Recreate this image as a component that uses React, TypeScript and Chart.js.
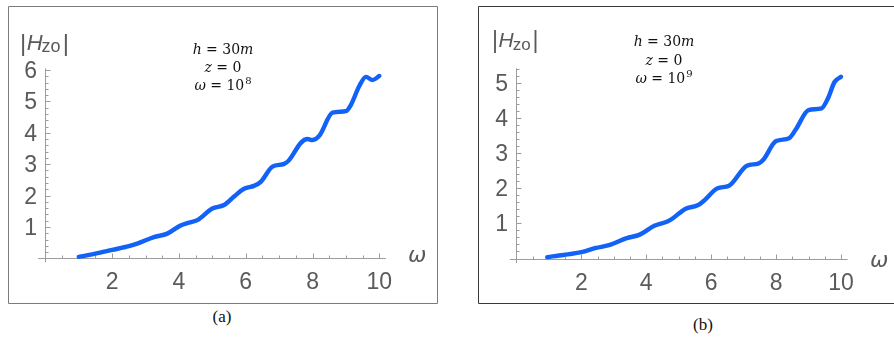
import React, { useEffect, useRef } from "react";
import { Chart, registerables } from "chart.js";

Chart.register(...registerables);

// ---------- data ----------
const omegaA = [1, 1.5, 2, 2.5, 2.75, 3.25, 3.65, 4.05, 4.3, 4.55, 5.0, 5.35, 5.65, 5.95, 6.25, 6.45, 6.8, 7.15, 7.3, 7.65, 7.85, 8.0, 8.2, 8.6, 9.0, 9.15, 9.4, 9.6, 9.8, 10];
const hzoA = [0.05, 0.15, 0.27, 0.39, 0.47, 0.68, 0.79, 1.05, 1.14, 1.22, 1.59, 1.7, 1.97, 2.22, 2.31, 2.44, 2.92, 3.01, 3.13, 3.68, 3.8, 3.77, 3.9, 4.64, 4.69, 4.89, 5.49, 5.78, 5.68, 5.81];

const omegaB = [0.95, 1.45, 2.0, 2.45, 2.85, 3.4, 3.8, 4.25, 4.65, 4.8, 5.2, 5.6, 5.75, 6.2, 6.55, 7.1, 7.45, 7.6, 8.0, 8.4, 8.6, 9.0, 9.4, 9.6, 9.8, 10];
const hzoB = [0.04, 0.1, 0.18, 0.3, 0.38, 0.58, 0.68, 0.93, 1.05, 1.13, 1.41, 1.52, 1.62, 2.0, 2.07, 2.64, 2.7, 2.8, 3.34, 3.42, 3.66, 4.22, 4.27, 4.56, 5.02, 5.17];

const xTickLabels = [2, 4, 6, 8, 10];
const yTickLabelsA = [1, 2, 3, 4, 5, 6];
const yTickLabelsB = [1, 2, 3, 4, 5];

const captions = ["(a)", "(b)"];
const exponentA = "8";
const exponentB = "9";

type Seg = { t: string; it?: boolean; sup?: boolean };

const annotationLines = (exp: string): Seg[][] => [
  [{ t: "h", it: true }, { t: " = 30" }, { t: "m", it: true }],
  [{ t: "z", it: true }, { t: " = 0" }],
  [{ t: "ω", it: true }, { t: " = 10" }, { t: exp, sup: true }],
];

// ---------- panel layout / style ----------
type Panel = {
  left: number; top: number; width: number; height: number;
  pad: { left: number; right: number; top: number; bottom: number };
  xMin: number; xMax: number; yMin: number; yMax: number;
  xs: number[]; ys: number[]; yTicks: number[];
  exp: string;
  borderColor: string; rightBorder: boolean;
  hLabel: { x: number; base: number; size: number; subSize: number; subBase: number };
  ann: { cx: number; base: number; gap: number };
  omega: { x: number; base: number };
  caption: { cx: number; top: number; text: string };
};

const panels: Panel[] = [
  {
    left: 8, top: 6, width: 430, height: 298,
    pad: { left: 30, right: 52, top: 62.4, bottom: 41.8 },
    xMin: -0.22, xMax: 10.2, yMin: -0.12, yMax: 6.05,
    xs: omegaA, ys: hzoA, yTicks: yTickLabelsA, exp: exponentA,
    borderColor: "#7c7c7c", rightBorder: true,
    hLabel: { x: 12, base: 44, size: 22, subSize: 18, subBase: 46 },
    ann: { cx: 215, base: 48, gap: 18 },
    omega: { x: 400, base: 256 },
    caption: { cx: 222, top: 307, text: captions[0] },
  },
  {
    left: 478, top: 6, width: 416, height: 298,
    pad: { left: 31.9, right: 46.5, top: 62.3, bottom: 40.9 },
    xMin: -0.2, xMax: 10.2, yMin: -0.13, yMax: 5.41,
    xs: omegaB, ys: hzoB, yTicks: yTickLabelsB, exp: exponentB,
    borderColor: "#3a3a3a", rightBorder: false,
    hLabel: { x: 14, base: 41, size: 21, subSize: 17, subBase: 44 },
    ann: { cx: 186, base: 40, gap: 18.5 },
    omega: { x: 392, base: 261 },
    caption: { cx: 703, top: 315, text: captions[1] },
  },
];

const AXIS = "#9c9c9c";
const LABEL = "#5a5a5a";
const CURVE = "#1262f7";

function drawSegs(ctx: CanvasRenderingContext2D, segs: Seg[], cx: number, base: number, size: number) {
  const fontFor = (s: Seg) =>
    `${s.it ? "italic " : ""}${s.sup ? Math.round(size * 0.68) : size}px "DejaVu Serif"`;
  let total = 0;
  for (const s of segs) {
    ctx.font = fontFor(s);
    total += ctx.measureText(s.t).width + (s.sup ? 1 : 0);
  }
  let x = cx - total / 2;
  ctx.textAlign = "left";
  ctx.textBaseline = "alphabetic";
  for (const s of segs) {
    ctx.font = fontFor(s);
    if (s.sup) x += 1;
    ctx.fillText(s.t, x, s.sup ? base - size * 0.42 : base);
    x += ctx.measureText(s.t).width;
  }
}

function makePlugin(p: Panel) {
  return {
    id: "mathAxes",
    beforeDatasetsDraw(chart: any) {
      const { ctx } = chart;
      const xs = chart.scales.x;
      const ys = chart.scales.y;
      const x0 = Math.round(xs.getPixelForValue(0)) + 0.5;
      const y0 = Math.round(ys.getPixelForValue(0)) + 0.5;
      ctx.save();
      // border
      ctx.strokeStyle = p.borderColor;
      ctx.lineWidth = 1;
      ctx.beginPath();
      if (p.rightBorder) {
        ctx.rect(0.5, 0.5, chart.width - 1, chart.height - 1);
      } else {
        ctx.moveTo(chart.width + 2, 0.5);
        ctx.lineTo(0.5, 0.5);
        ctx.lineTo(0.5, chart.height - 0.5);
        ctx.lineTo(chart.width + 2, chart.height - 0.5);
      }
      ctx.stroke();

      ctx.strokeStyle = AXIS;
      ctx.beginPath();
      ctx.moveTo(xs.left, y0);
      ctx.lineTo(xs.right, y0);
      ctx.moveTo(x0, ys.top);
      ctx.lineTo(x0, ys.bottom);
      // x ticks every 0.5, major every 2
      for (let k = 1; k * 0.5 <= p.xMax; k++) {
        const v = k * 0.5;
        const px = Math.round(xs.getPixelForValue(v)) + 0.5;
        const len = k % 4 === 0 ? 5 : 3;
        ctx.moveTo(px, y0);
        ctx.lineTo(px, y0 - len);
      }
      // y ticks every 0.2, major every 1
      for (let k = 1; k * 0.2 <= p.yMax + 1e-9; k++) {
        const v = k * 0.2;
        const py = Math.round(ys.getPixelForValue(v)) + 0.5;
        const len = k % 5 === 0 ? 5 : 3;
        ctx.moveTo(x0, py);
        ctx.lineTo(x0 + len, py);
      }
      ctx.stroke();

      // tick labels
      ctx.fillStyle = LABEL;
      ctx.font = '23px "Liberation Sans"';
      ctx.textAlign = "center";
      ctx.textBaseline = "alphabetic";
      for (const v of xTickLabels) {
        ctx.fillText(String(v), xs.getPixelForValue(v), y0 + 30);
      }
      ctx.textAlign = "right";
      for (const v of p.yTicks) {
        ctx.fillText(String(v), x0 - 8.5, ys.getPixelForValue(v) + 8);
      }

      // |H_zo| label
      const h = p.hLabel;
      ctx.textAlign = "left";
      let cx = h.x;
      ctx.font = `${h.size + 2}px "Liberation Sans"`;
      ctx.fillText("|", cx, h.base + 1);
      cx += ctx.measureText("|").width + 0.5;
      ctx.font = `italic ${h.size}px "Liberation Sans"`;
      ctx.fillText("H", cx, h.base);
      cx += ctx.measureText("H").width - 1;
      ctx.font = `${h.subSize}px "Liberation Sans"`;
      ctx.fillText("zo", cx, h.subBase);
      cx += ctx.measureText("zo").width + 2;
      ctx.font = `${h.size + 2}px "Liberation Sans"`;
      ctx.fillText("|", cx, h.base + 1);

      // omega axis label
      ctx.font = 'italic 22px "DejaVu Sans"';
      ctx.fillText("ω", p.omega.x, p.omega.base);

      // annotation
      ctx.fillStyle = "#111111";
      annotationLines(p.exp).forEach((segs, i) => {
        drawSegs(ctx, segs, p.ann.cx, p.ann.base + i * p.ann.gap, 14);
      });
      ctx.restore();
    },
  };
}

function PanelChart({ p }: { p: Panel }) {
  const ref = useRef<HTMLCanvasElement | null>(null);
  useEffect(() => {
    if (!ref.current) return;
    const chart = new Chart(ref.current, {
      type: "line",
      data: {
        datasets: [
          {
            data: p.xs.map((x, i) => ({ x, y: p.ys[i] })),
            borderColor: CURVE,
            borderWidth: 4.4,
            pointRadius: 0,
            cubicInterpolationMode: "monotone",
            fill: false,
            borderCapStyle: "round",
            borderJoinStyle: "round",
          },
        ],
      },
      options: {
        animation: false,
        responsive: false,
        maintainAspectRatio: false,
        layout: { padding: p.pad },
        plugins: { legend: { display: false }, tooltip: { enabled: false } },
        scales: {
          x: { type: "linear", min: p.xMin, max: p.xMax, display: false },
          y: { type: "linear", min: p.yMin, max: p.yMax, display: false },
        },
      },
      plugins: [makePlugin(p)],
    } as any);
    return () => chart.destroy();
  }, [p]);
  return (
    <canvas
      ref={ref}
      width={p.width}
      height={p.height}
      style={{ position: "absolute", left: p.left, top: p.top, width: p.width, height: p.height }}
    />
  );
}

export default function App() {
  return (
    <div style={{ position: "absolute", left: 0, top: 0, width: 894, height: 337, background: "#fff", overflow: "hidden" }}>
      {panels.map((p, i) => (
        <React.Fragment key={i}>
          <PanelChart p={p} />
          <div
            style={{
              position: "absolute",
              left: p.caption.cx - 30,
              top: p.caption.top,
              width: 60,
              textAlign: "center",
              fontFamily: '"Liberation Serif", serif',
              fontSize: 17,
              color: "#111",
            }}
          >
            {p.caption.text}
          </div>
        </React.Fragment>
      ))}
    </div>
  );
}
